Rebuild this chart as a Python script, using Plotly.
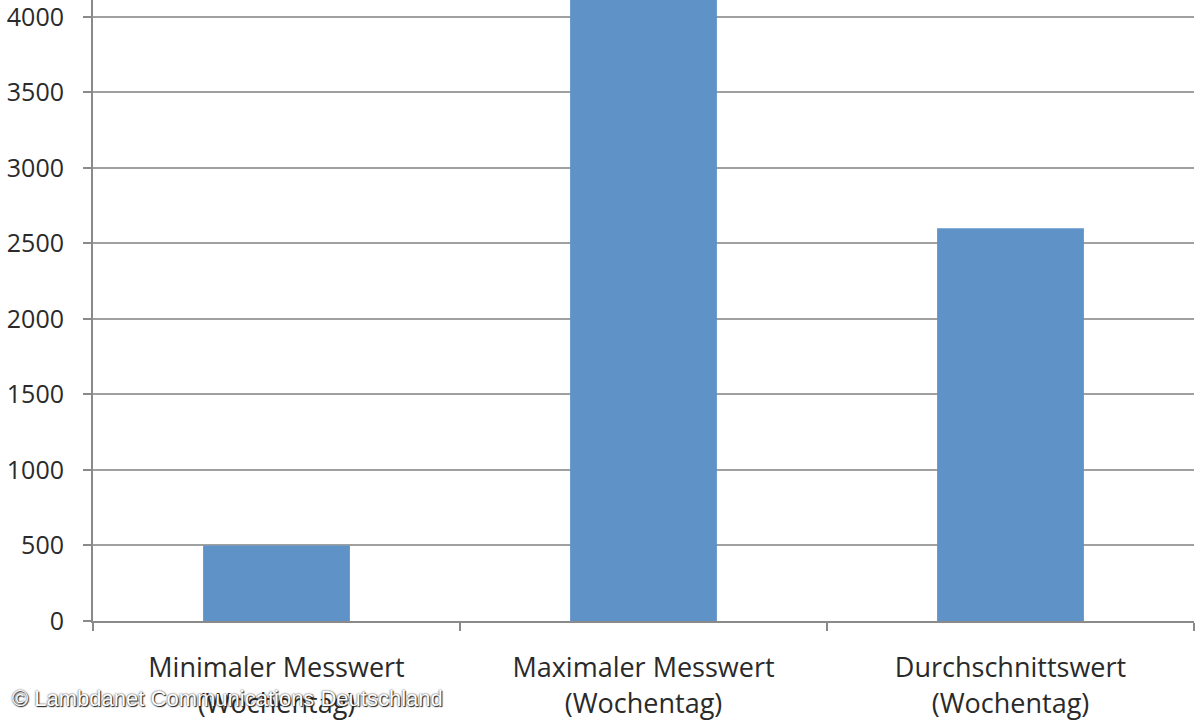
import plotly.graph_objects as go

categories = ["Minimaler Messwert<br>(Wochentag)", "Maximaler Messwert<br>(Wochentag)", "Durchschnittswert<br>(Wochentag)"]
values = [500, 4500, 2600]
y_ticks = [0, 500, 1000, 1500, 2000, 2500, 3000, 3500, 4000]

fig = go.Figure()
fig.add_trace(go.Bar(x=categories, y=values, marker=dict(color="#5F93C8", line=dict(width=0)), width=0.4))

fig.update_layout(
    width=1200, height=720,
    margin=dict(l=93, r=6, t=0, b=99),
    paper_bgcolor="white", plot_bgcolor="white",
    showlegend=False,
    font=dict(family="Open Sans", size=23, color="#2a2a2a"),
)
fig.update_xaxes(
    type="category", range=[-0.5, 2.5], tickson="boundaries",
    ticks="outside", ticklen=8, tickwidth=2, tickcolor="#8a8a8a",
    showline=True, linecolor="#8a8a8a", linewidth=2, showgrid=False,
    tickfont=dict(family="Open Sans", size=27, color="#2a2a2a"),
    ticklabelstandoff=22, automargin=False,
)
fig.update_yaxes(
    range=[0, 4112], tickvals=y_ticks, ticktext=[str(v) for v in y_ticks],
    ticks="outside", ticklen=8, tickwidth=2, tickcolor="#8a8a8a",
    showline=True, linecolor="#8a8a8a", linewidth=2,
    showgrid=True, gridcolor="#a0a0a0", gridwidth=2, zeroline=False,
    tickfont=dict(family="Open Sans", size=25, color="#2a2a2a"),
    ticklabelstandoff=14, automargin=False, ticklabeloverflow="allow",
)
fig.add_annotation(
    text="© Lambdanet Communications Deutschland",
    xref="paper", yref="paper", x=(10 - 93) / 1101, y=(621 - 698) / 621,
    xanchor="left", yanchor="middle", showarrow=False,
    font=dict(family="Liberation Sans", size=22, color="white",
              shadow="0px 0px 2px #222, 1px 1px 1px #222"),
)
fig.write_html("out.html", config={"displayModeBar": False},
               post_script="document.body.style.margin='0';")
